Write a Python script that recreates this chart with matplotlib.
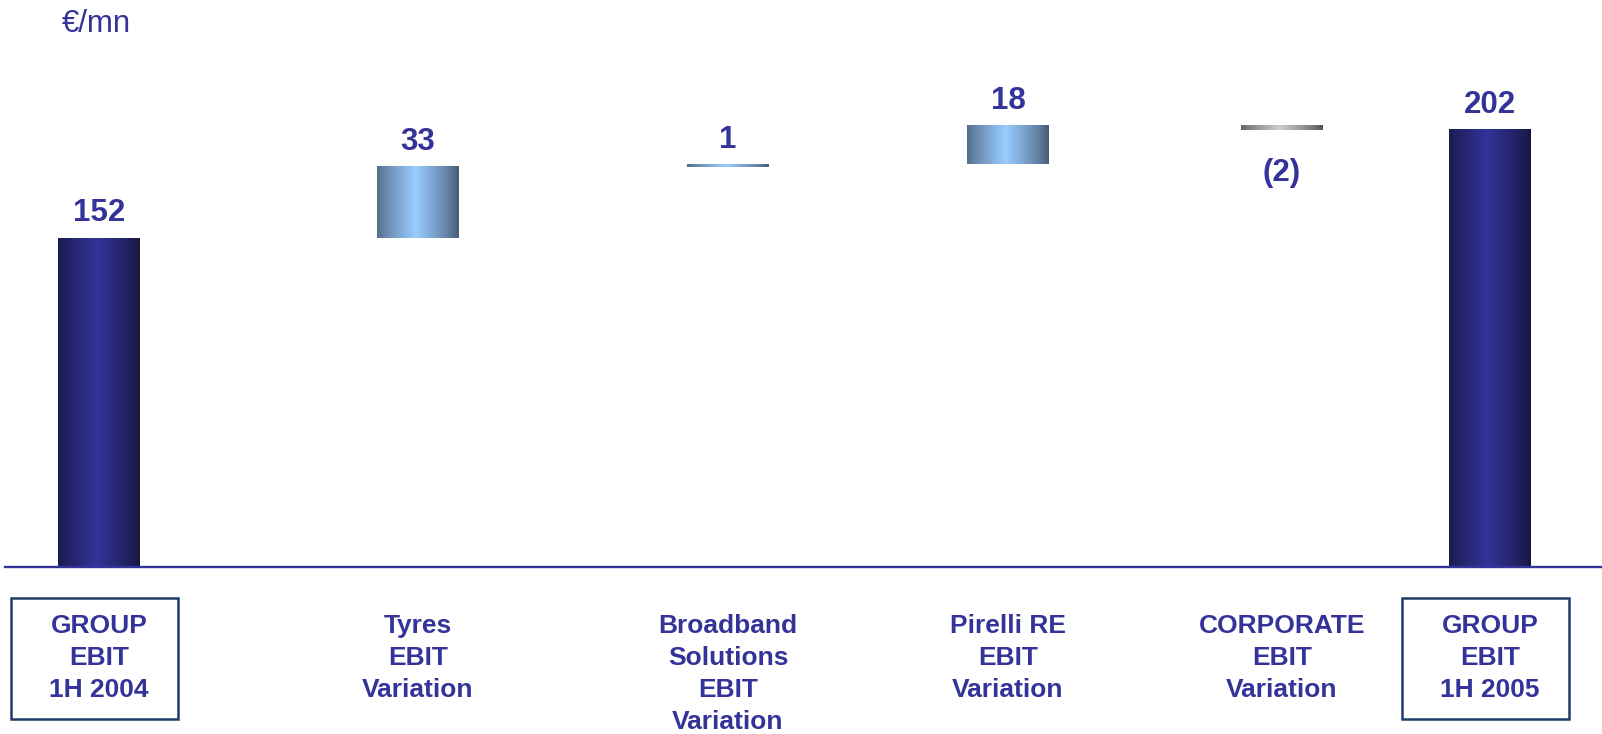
import numpy as np
import matplotlib.pyplot as plt
from matplotlib.colors import LinearSegmentedColormap
from matplotlib.patches import Rectangle

plt.rcParams['font.family'] = ['Liberation Sans', 'DejaVu Sans']

# data
CATEGORIES = ['GROUP\nEBIT\n1H 2004', 'Tyres\nEBIT\nVariation',
              'Broadband\nSolutions\nEBIT\nVariation', 'Pirelli RE\nEBIT\nVariation',
              'CORPORATE\nEBIT\nVariation', 'GROUP\nEBIT\n1H 2005']
VALUES = [152, 33, 1, 18, -2, 202]
KINDS = ['total', 'delta', 'delta', 'delta', 'delta', 'total']
VALUE_LABELS = ['152', '33', '1', '18', '(2)', '202']

# layout (pixel columns of the original slide)
X_POS = [99, 418, 728, 1008, 1282, 1490]
BAR_W = 82
TXT = '#333399'

W, H = 1602, 734
fig = plt.figure(figsize=(W / 100, H / 100), dpi=100)
base_px = 567
ax = fig.add_axes([0, (H - base_px) / H, 1, base_px / H])
px_per_unit = 2.164
ax.axis('off')

cmaps = {
    'dark': LinearSegmentedColormap.from_list('d', ['#16163f', '#333399']),
    'light': LinearSegmentedColormap.from_list('l', ['#465a74', '#99ccff']),
    'grey': LinearSegmentedColormap.from_list('g', ['#505050', '#cccccc']),
}
u = np.linspace(0, 1, 200)
prof = 1 - np.abs(u - 0.47) / 0.53
prof = np.clip(prof, 0, 1) ** 0.8
grad = prof[np.newaxis, :]

running = 0
for x, v, kind, lab in zip(X_POS, VALUES, KINDS, VALUE_LABELS):
    if kind == 'total':
        bottom, top = 0, v
        running = v
        cmap = cmaps['dark']
    else:
        bottom, top = running, running + v
        running += v
        cmap = cmaps['light'] if v > 0 else cmaps['grey']
    lo, hi = min(bottom, top), max(bottom, top)
    ax.imshow(grad, extent=(x - BAR_W / 2, x + BAR_W / 2, lo, hi),
              aspect='auto', cmap=cmap, vmin=0, vmax=1,
              interpolation='bicubic', zorder=2)
    if v >= 0:
        ax.annotate(lab, (x, hi), xytext=(0, 7), textcoords='offset points',
                    ha='center', va='bottom', fontsize=22.5, fontweight='bold',
                    color=TXT)
    else:
        ax.annotate(lab, (x, lo), xytext=(0, -20), textcoords='offset points',
                    ha='center', va='top', fontsize=22.5, fontweight='bold',
                    color=TXT)

ax.set_xlim(0, W)
ax.set_ylim(0, base_px / px_per_unit)
ax.axhline(0, xmin=5 / W, xmax=1, color=TXT, lw=1.7, zorder=3, clip_on=False)

# overlay for labels in pixel coordinates
lab_ax = fig.add_axes([0, 0, 1, 1])
lab_ax.set_xlim(0, W)
lab_ax.set_ylim(H, 0)
lab_ax.axis('off')
lab_ax.patch.set_alpha(0)

for x, cat, kind in zip(X_POS, CATEGORIES, KINDS):
    lab_ax.text(x, 614, cat, ha='center', va='top', fontsize=19,
                fontweight='bold', color=TXT, linespacing=1.42)
    if kind == 'total':
        lab_ax.add_patch(Rectangle((x - 88, 598), 167, 121, fill=False,
                                   edgecolor='#1f3d6b', lw=1.8))

lab_ax.text(62, 24, '€/mn', ha='left', va='center', fontsize=22.5, color=TXT)

fig.savefig('out.png', dpi=100, facecolor='white')
